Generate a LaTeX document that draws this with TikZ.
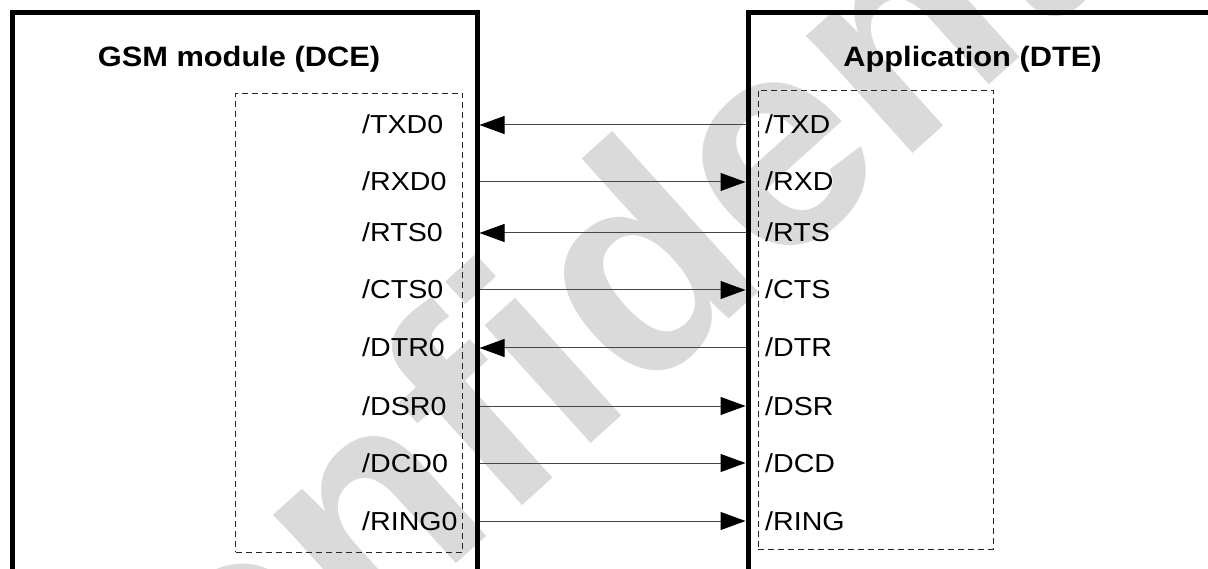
\documentclass[tikz,border=0pt]{standalone}
\usepackage{fontspec}
\setmainfont{Liberation Sans}[FakeStretch=1.1]
\newfontfamily\wmfont{Liberation Sans}
\usetikzlibrary{arrows.meta}
\definecolor{wmgray}{RGB}{218,218,218}
\definecolor{wire}{RGB}{70,70,70}
\begin{document}
\begin{tikzpicture}[x=1pt,y=-1pt,
  mainbox/.style={draw, line width=5pt, inner sep=0pt},
  pinbox/.style={draw=black!85, line width=0.9pt, dash pattern=on 6pt off 4pt, inner sep=0pt},
  titletext/.style={font=\bfseries\fontsize{28}{32}\selectfont, anchor=base, inner sep=0pt},
  pinleft/.style={font=\fontsize{26}{30}\selectfont, anchor=base west, inner sep=0pt},
  pinright/.style={font=\fontsize{26}{30}\selectfont, anchor=base west, inner sep=0pt},
  wmtext/.style={font=\wmfont\bfseries\fontsize{300}{300}\selectfont, text=wmgray, inner sep=0pt},
  sig/.style={draw=wire, line width=1pt, -{Triangle[length=25pt,width=18pt,color=black]}}
]
\useasboundingbox (0,0) rectangle (1208,569);
% watermark
\node[wmtext, rotate=42] (wm) at (640,255) {Confidential};
% main boxes
\node[mainbox, minimum width=465pt, minimum height=558.5pt] (dce) at (244.5,291.75) {};
\node[mainbox, minimum width=502pt, minimum height=558.5pt] (dte) at (999,291.75) {};
% titles
\node[titletext] (tdce) at (239,67) {GSM module (DCE)};
\node[titletext] (tdte) at (972.5,67) {Application (DTE)};
% dashed pin boxes
\node[pinbox, minimum width=226.5pt, minimum height=459pt] (dcepins) at (348.75,322.5) {};
\node[pinbox, minimum width=235pt, minimum height=459pt] (dtepins) at (875.5,319.5) {};
% pin labels
\node[pinleft] (lTXD) at (362,134) {/TXD0};
\node[pinleft] (lRXD) at (362,191) {/RXD0};
\node[pinleft] (lRTS) at (362,242) {/RTS0};
\node[pinleft] (lCTS) at (362,299) {/CTS0};
\node[pinleft] (lDTR) at (362,357) {/DTR0};
\node[pinleft] (lDSR) at (362,415) {/DSR0};
\node[pinleft] (lDCD) at (362,472) {/DCD0};
\node[pinleft] (lRING) at (362,530) {/RING0};
\node[pinright] (rTXD) at (765,134) {/TXD};
\node[pinright] (rRXD) at (765,191) {/RXD};
\node[pinright] (rRTS) at (765,242) {/RTS};
\node[pinright] (rCTS) at (765,299) {/CTS};
\node[pinright] (rDTR) at (765,357) {/DTR};
\node[pinright] (rDSR) at (765,415) {/DSR};
\node[pinright] (rDCD) at (765,472) {/DCD};
\node[pinright] (rRING) at (765,530) {/RING};
% connection points on the box edges
\coordinate (aTXD) at (479.5,125);  \coordinate (bTXD) at (745.5,125);
\coordinate (aRXD) at (479.5,182);  \coordinate (bRXD) at (745.5,182);
\coordinate (aRTS) at (479.5,233);  \coordinate (bRTS) at (745.5,233);
\coordinate (aCTS) at (479.5,290);  \coordinate (bCTS) at (745.5,290);
\coordinate (aDTR) at (479.5,348);  \coordinate (bDTR) at (745.5,348);
\coordinate (aDSR) at (479.5,406);  \coordinate (bDSR) at (745.5,406);
\coordinate (aDCD) at (479.5,463);  \coordinate (bDCD) at (745.5,463);
\coordinate (aRING) at (479.5,521); \coordinate (bRING) at (745.5,521);
% connectors
\draw[sig] (bTXD) -- (aTXD);
\draw[sig] (aRXD) -- (bRXD);
\draw[sig] (bRTS) -- (aRTS);
\draw[sig] (aCTS) -- (bCTS);
\draw[sig] (bDTR) -- (aDTR);
\draw[sig] (aDSR) -- (bDSR);
\draw[sig] (aDCD) -- (bDCD);
\draw[sig] (aRING) -- (bRING);
\end{tikzpicture}
\end{document}
